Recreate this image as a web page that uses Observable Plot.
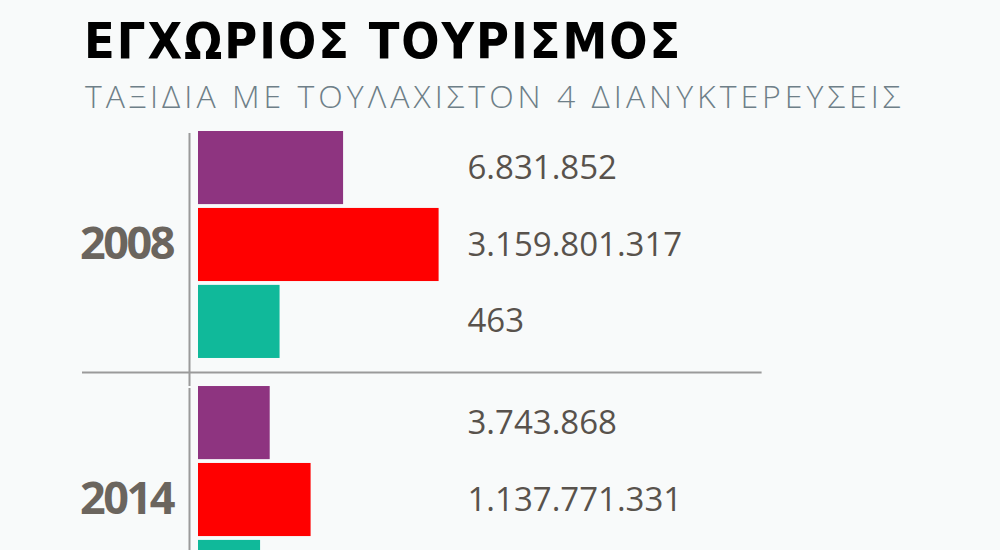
<!DOCTYPE html>
<html>
<head>
<meta charset="utf-8">
<script src="https://cdn.jsdelivr.net/npm/d3@7"></script>
<script src="https://cdn.jsdelivr.net/npm/@observablehq/plot@0.6"></script>
<style>
  body { margin: 0; width: 1000px; height: 550px; overflow: hidden; position: relative; background: #f8fafa; }
  #title { position: absolute; left: 84px; top: 16px; font: bold 50px/50px "Liberation Sans Narrow", "DejaVu Sans Condensed", sans-serif; letter-spacing: 2px; color: #000; white-space: nowrap; }
  #subtitle { position: absolute; left: 85px; top: 79.6px; font: 300 32px/32px "Open Sans", sans-serif; letter-spacing: 4px; color: #6e7f88; white-space: nowrap; }
  #chart { position: absolute; left: 0; top: 125px; }
  #chart g[font-weight="bold"] { letter-spacing: -2.5px; }
</style>
</head>
<body>
<div id="title">ΕΓΧΩΡΙΟΣ ΤΟΥΡΙΣΜΟΣ</div>
<div id="subtitle">ΤΑΞΙΔΙΑ ΜΕ ΤΟΥΛΑΧΙΣΤΟΝ 4 ΔΙΑΝΥΚΤΕΡΕΥΣΕΙΣ</div>
<div id="chart"></div>
<script>
// έτη και δείκτες
const years = [2008, 2014]
const metrics = ["trips", "spending", "perTrip"]
const metricColors = ["#8e3480", "#ff0000", "#10b99a"]

// ετικέτες όπως γράφονται στο γράφημα (η τρίτη του 2014 κόβεται)
const labels2008 = ["6.831.852", "3.159.801.317", "463"]
const labels2014 = ["3.743.868", "1.137.771.331", ""]

// μήκος μπάρας όπως διαβάζεται από την εικόνα (κόκκινη 2008 = 100)
const len2008 = [60.3, 100, 33.9]
const len2014 = [29.8, 46.8, 25.8]

let rows = []
metrics.forEach((m, i) => {
    rows.push({year: 2008, metric: m, len: len2008[i], label: labels2008[i]})
    rows.push({year: 2014, metric: m, len: len2014[i], label: labels2014[i]})
})

let chart = Plot.plot({
    width: 1000,
    height: 500,
    marginLeft: 198,
    marginRight: 561.4,
    marginTop: 6,
    marginBottom: 12,
    facet: {data: rows, y: "year"},
    fy: {domain: years, paddingInner: 0.11, paddingOuter: 0, round: false, axis: null, label: null},
    y: {domain: metrics, paddingInner: 0.05, paddingOuter: 0, round: false, axis: null, label: null},
    x: {domain: [0, 100], axis: null, label: null},
    color: {domain: metrics, range: metricColors},
    style: {background: "transparent", fontFamily: "Open Sans"},
    marks: [
        Plot.barX(rows, {x: "len", y: "metric", fill: "metric"}),
        // κάθετος άξονας
        Plot.ruleX([0], {dx: -9, stroke: "#9a9a9a", strokeWidth: 2, insetTop: 2, insetBottom: -28}),
        // διαχωριστική γραμμή μεταξύ ετών
        Plot.ruleY(rows, {filter: d => d.year === 2008 && d.metric === "perTrip", y: "metric", dy: 50.5,
            insetLeft: -116, insetRight: -323, stroke: "#9a9a9a", strokeWidth: 2}),
        Plot.text(rows, {y: "metric", text: "label", frameAnchor: "left", dx: 269, textAnchor: "start",
            fontSize: 33, fill: "#58524c"}),
        Plot.text(rows, {filter: d => d.metric === "trips", text: d => String(d.year), frameAnchor: "left",
            dx: -25.5, textAnchor: "end", fontSize: 45, fontWeight: "bold", fill: "#6b655e"})
    ]
})
d3.select("#chart").append(() => chart)
</script>
</body>
</html>
